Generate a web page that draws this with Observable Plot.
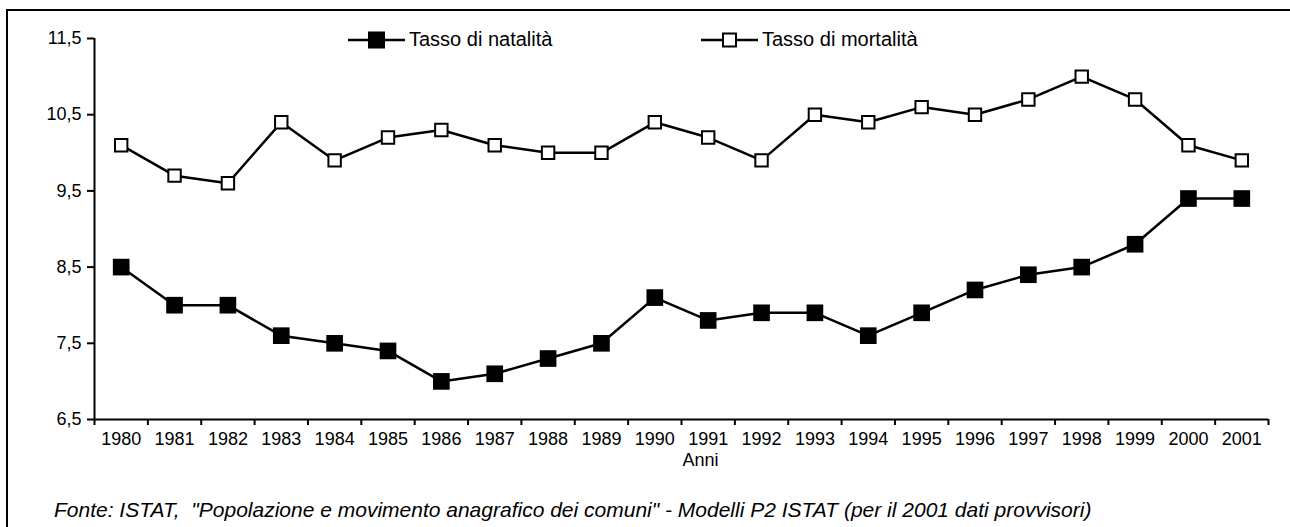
<!DOCTYPE html>
<html><head><meta charset="utf-8">
<script src="https://cdn.jsdelivr.net/npm/d3@7"></script>
<script src="https://cdn.jsdelivr.net/npm/@observablehq/plot@0.6"></script>
<style>
body{margin:0;background:#fff;font-family:"Liberation Sans",Arial,sans-serif;color:#000;}
#wrap{position:relative;width:1290px;height:527px;overflow:hidden;background:#fff;}
#frame{position:absolute;left:6px;top:9px;width:1400px;height:700px;border-left:2px solid #000;border-top:2px solid #000;}
#chart{position:absolute;left:0;top:0;}
.leg{position:absolute;top:28px;display:flex;align-items:center;font-size:20px;white-space:nowrap;line-height:23px;}
.leg svg{margin-right:4px;}
#caption{position:absolute;left:54px;top:498px;font-style:italic;font-size:21px;white-space:pre;line-height:24px;}
</style></head><body>
<div id="wrap"><div id="frame"></div><div id="chart"></div><div id="legend"></div><div id="caption"></div></div>
<script>
const years = [1980,1981,1982,1983,1984,1985,1986,1987,1988,1989,1990,1991,1992,1993,1994,1995,1996,1997,1998,1999,2000,2001];
const natalita = [8.5,8.0,8.0,7.6,7.5,7.4,7.0,7.1,7.3,7.5,8.1,7.8,7.9,7.9,7.6,7.9,8.2,8.4,8.5,8.8,9.4,9.4];
const mortalita = [10.1,9.7,9.6,10.4,9.9,10.2,10.3,10.1,10.0,10.0,10.4,10.2,9.9,10.5,10.4,10.6,10.5,10.7,11.0,10.7,10.1,9.9];
const yTicks = [6.5,7.5,8.5,9.5,10.5,11.5];
const seriesNames = ["Tasso di natalità","Tasso di mortalità"];
const xTitle = "Anni";
const captionText = 'Fonte: ISTAT,  "Popolazione e movimento anagrafico dei comuni" - Modelli P2 ISTAT (per il 2001 dati provvisori)';

const natRows = years.map((y,i)=>({year:y,value:natalita[i]}));
const morRows = years.map((y,i)=>({year:y,value:mortalita[i]}));
const bounds = years.map(y=>y-0.5).concat([years[years.length-1]+0.5]);
const x0 = bounds[0], x1 = bounds[bounds.length-1];

const plot = Plot.plot({
  width:1290, height:480,
  marginLeft:94, marginRight:22, marginTop:38, marginBottom:61,
  x:{type:"linear", domain:[x0,x1]},
  y:{domain:[yTicks[0], yTicks[yTicks.length-1]]},
  style:{fontFamily:"Liberation Sans, Arial, sans-serif", fontSize:"18px", color:"#000", background:"transparent", overflow:"visible"},
  marks:[
    Plot.axisY({ticks:yTicks, tickSize:7, tickPadding:6, tickFormat:d=>d.toFixed(1).replace(".",","), label:null, strokeWidth:2}),
    Plot.axisX({ticks:bounds, tickSize:6, tickFormat:()=>"", label:null, strokeWidth:2}),
    Plot.axisX({ticks:years, tickSize:0, tickPadding:13, tickFormat:d=>String(d), label:null}),
    Plot.text([xTitle], {frameAnchor:"bottom", lineAnchor:"middle", dx:19, dy:41, fontSize:18, fill:"#000"}),
    Plot.ruleX([x0],{y1:yTicks[0], y2:yTicks[yTicks.length-1], strokeWidth:2}),
    Plot.ruleY([yTicks[0]],{strokeWidth:2}),
    Plot.line(morRows,{x:"year", y:"value", stroke:"#000", strokeWidth:2.5}),
    Plot.line(natRows,{x:"year", y:"value", stroke:"#000", strokeWidth:2.5}),
    Plot.dot(morRows,{x:"year", y:"value", symbol:"square", r:7, fill:"#fff", stroke:"#000", strokeWidth:2}),
    Plot.dot(natRows,{x:"year", y:"value", symbol:"square", r:9.4, fill:"#000", stroke:"none"})
  ]
});
document.getElementById("chart").appendChild(plot);

const legPos = [348, 701];
const legend = document.getElementById("legend");
seriesNames.forEach((name,i)=>{
  const d = document.createElement("div");
  d.className = "leg";
  d.style.left = legPos[i] + "px";
  const filled = i === 0;
  d.innerHTML = `<svg width="57" height="20"><line x1="0" x2="57" y1="10" y2="10" stroke="#000" stroke-width="2.5"/>` +
    (filled ? `<rect x="20" y="1.5" width="17" height="17" fill="#000"/>` :
              `<rect x="22" y="3.5" width="13" height="13" fill="#fff" stroke="#000" stroke-width="2"/>`) +
    `</svg><span>${name}</span>`;
  legend.appendChild(d);
});
document.getElementById("caption").textContent = captionText;
</script>
</body></html>
